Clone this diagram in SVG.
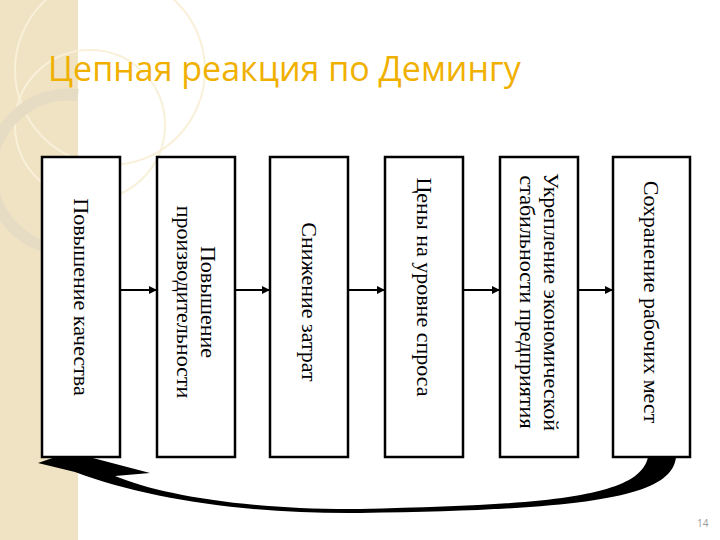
<svg xmlns="http://www.w3.org/2000/svg" width="720" height="540" viewBox="0 0 720 540">
<style>
.box{fill:#fff;stroke:#000;stroke-width:2.5}
.t{font-family:"Liberation Serif",serif;font-size:22px;fill:#000;text-anchor:middle}
.c{stroke:#000;stroke-width:2;fill:none}
</style>
<defs>
<marker id="ah" markerWidth="8" markerHeight="8" refX="7" refY="4" orient="auto" markerUnits="userSpaceOnUse"><path d="M0,0 L8,4 L0,8 Z" fill="#000"/></marker>
</defs>
<rect width="720" height="540" fill="#fff"/>
<rect x="0" y="0" width="78" height="540" fill="#efe3c3"/>
<circle cx="110" cy="70" r="95" fill="none" stroke="#f8f0d8" stroke-width="2"/>
<circle cx="90" cy="125" r="75" fill="none" stroke="#f8f0d8" stroke-width="2"/>
<path d="M78,95 A75,75 0 0 0 60,250" fill="none" stroke="#e6dcc4" stroke-width="12"/>
<text x="48" y="81" font-family="'Open Sans',sans-serif" font-size="34" fill="#f0b000">Цепная реакция по Демингу</text>
<g id="connectors">
<line class="c" x1="120" y1="290" x2="156" y2="290" marker-end="url(#ah)"/>
<line class="c" x1="235" y1="290" x2="269" y2="290" marker-end="url(#ah)"/>
<line class="c" x1="348" y1="290" x2="384" y2="290" marker-end="url(#ah)"/>
<line class="c" x1="463" y1="290" x2="499" y2="290" marker-end="url(#ah)"/>
<line class="c" x1="578" y1="290" x2="612" y2="290" marker-end="url(#ah)"/>
<path d="M648,457 C640,495 560,505 360,509 C250,510 160,495 115,476 L150,473 L70,452 L38,463 L75,472 C150,500 250,514 360,513 C600,510 672,495 676,457 Z" fill="#000"/>
</g>
<g id="n1"><rect class="box" x="42" y="157" width="78" height="300"/><text class="t" transform="translate(81,297) rotate(90)" y="7">Повышение качества</text></g>
<g id="n2"><rect class="box" x="157" y="157" width="78" height="300"/><text class="t" transform="translate(196,302) rotate(90)"><tspan x="0" y="-5">Повышение</tspan><tspan x="0" y="19">производительности</tspan></text></g>
<g id="n3"><rect class="box" x="270" y="157" width="78" height="300"/><text class="t" transform="translate(309,302) rotate(90)" y="7">Снижение затрат</text></g>
<g id="n4"><rect class="box" x="385" y="157" width="78" height="300"/><text class="t" transform="translate(424,287) rotate(90)" y="7">Цены на уровне спроса</text></g>
<g id="n5"><rect class="box" x="500" y="157" width="78" height="300"/><text class="t" transform="translate(539,302) rotate(90)"><tspan x="0" y="-5">Укрепление экономической</tspan><tspan x="0" y="19">стабильности предприятия</tspan></text></g>
<g id="n6"><rect class="box" x="613" y="157" width="77" height="300"/><text class="t" transform="translate(651,302) rotate(90)" y="7">Сохранение рабочих мест</text></g>
<text x="697" y="527" font-family="'Open Sans',sans-serif" font-size="10" fill="#999">14</text>
</svg>
